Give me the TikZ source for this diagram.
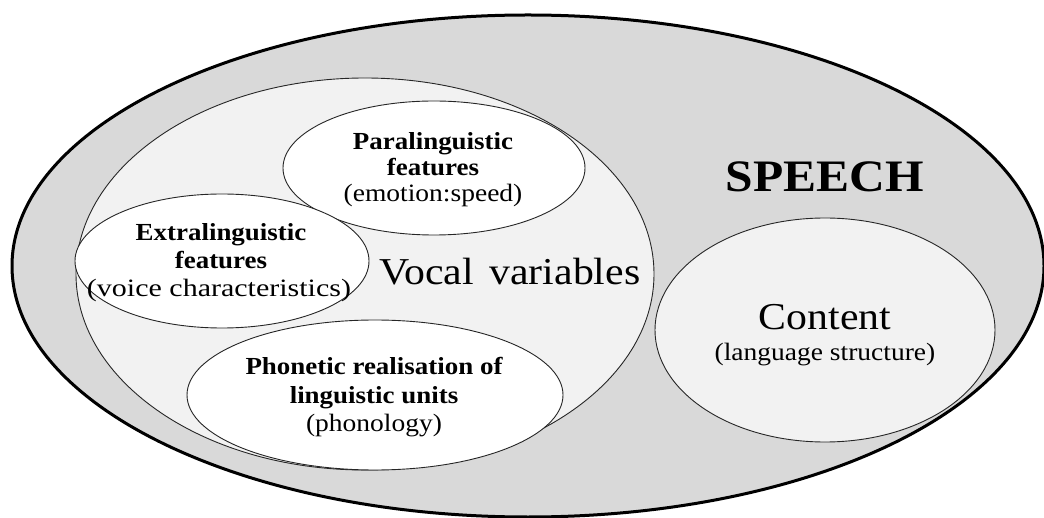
\documentclass[tikz,border=0pt]{standalone}
\usepackage{fontspec}
\usepackage{graphicx}
\setmainfont{Liberation Serif}
\usetikzlibrary{shapes.geometric}
\definecolor{outerfill}{HTML}{D9D9D9}
\definecolor{innerfill}{HTML}{F2F2F2}
\newcommand{\sx}[1]{\scalebox{1.1}[1]{#1}}
\begin{document}
\begin{tikzpicture}[x=1pt,y=-1pt,
  oval/.style={ellipse, draw=black!85, line width=0.9pt, inner sep=0pt, outer sep=0pt},
  ttl/.style={anchor=base, inner sep=0pt, font=\fontsize{24.5}{28}\selectfont\bfseries},
  sub/.style={anchor=base, inner sep=0pt, font=\fontsize{25}{28}\selectfont},
  big/.style={anchor=base, inner sep=0pt, font=\fontsize{38}{44}\selectfont}]
\useasboundingbox (0,0) rectangle (1044,518);
\clip (0,0) rectangle (1044,518);
% ellipses
\node[oval, draw=black, line width=3pt, fill=outerfill, minimum width=1032pt, minimum height=502pt] (speech) at (528,266) {};
\node[oval, fill=innerfill, minimum width=578pt, minimum height=392pt] (vocal) at (365,274) {};
\node[oval, fill=innerfill, minimum width=340pt, minimum height=224pt] (content) at (825,330) {};
\node[oval, fill=white, minimum width=302pt, minimum height=134pt] (para) at (434,168) {};
\node[oval, fill=white, minimum width=294pt, minimum height=134pt] (extra) at (222,261) {};
\node[oval, fill=white, minimum width=376pt, minimum height=150pt] (phon) at (375,395) {};
% labels
\node[anchor=base, inner sep=0pt, font=\fontsize{45}{50}\selectfont\bfseries] (speechlbl) at (825,192) {\sx{SPEECH}};
\node[big] (vocallbl) at (510,285) {\sx{Vocal\hspace{0.12em} variables}};
\node[big] (contentlbl) at (825,330) {\sx{Content}};
\node[sub] (contentsub) at (825,361) {\sx{(language structure)}};
\node[ttl] (para1) at (433,150) {\sx{Paralinguistic}};
\node[ttl] (para2) at (433,176) {\sx{features}};
\node[sub] (para3) at (433,202) {\sx{(emotion:speed)}};
\node[ttl] (extra1) at (221,241) {\sx{Extralinguistic}};
\node[ttl] (extra2) at (221,269) {\sx{features}};
\node[sub] (extra3) at (219,297) {\scalebox{1.2}[1]{(voice characteristics)}};
\node[ttl] (phon1) at (374,374) {\sx{Phonetic realisation of}};
\node[ttl] (phon2) at (374,403) {\sx{linguistic units}};
\node[sub] (phon3) at (374,431) {\sx{(phonology)}};
\end{tikzpicture}
\end{document}
